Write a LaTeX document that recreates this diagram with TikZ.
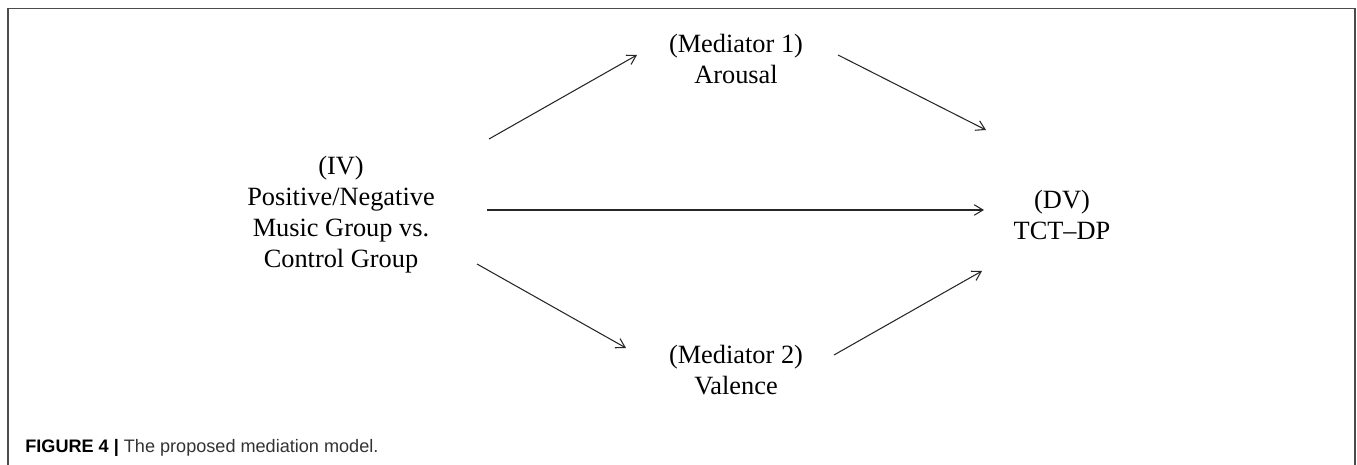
\documentclass[tikz,border=0pt]{standalone}
\usepackage{fontspec}
\setmainfont{Liberation Serif}
\newfontfamily\capfont{Liberation Sans}
\usetikzlibrary{arrows.meta, positioning}

\begin{document}
\begin{tikzpicture}
  [x=0.02cm, y=-0.02cm,
   varbox/.style={align=center, anchor=north, inner sep=0pt,
                  font=\fontsize{15}{17.6}\selectfont},
   effect/.style={-{Straight Barb[length=5pt,width=6pt]},
                  line width=0.6pt, black!85},
   borderline/.style={draw=black!70, line width=0.9pt},
   captext/.style={anchor=base west, inner sep=0pt,
                   font=\capfont\fontsize{10.3}{12}\selectfont}]

  \useasboundingbox (0,0) rectangle (1357,465);

  % Rahmen
  \draw [borderline] (8,465) -- (8,8.5) -- (1355,8.5) -- (1355,465);

  % Variablen
  \node (iv) at (341,156) [varbox]
      {(IV)\\ Positive/Negative\\ Music Group vs.\\ Control Group};
  \node (arousal) at (736,34) [varbox] {(Mediator 1)\\ Arousal};
  \node (valence) at (736,345) [varbox] {(Mediator 2)\\ Valence};
  \node (dv) at (1062,190) [varbox] {(DV)\\ TCT--DP};

  % Pfeilenden
  \coordinate (iv-up)       at (489,139);
  \coordinate (iv-mid)      at (487,210);
  \coordinate (iv-down)     at (477,264);
  \coordinate (arousal-in)  at (637,55);
  \coordinate (arousal-out) at (838,55);
  \coordinate (valence-in)  at (626,348);
  \coordinate (valence-out) at (834,355);
  \coordinate (dv-up)       at (986,130);
  \coordinate (dv-mid)      at (984,210);
  \coordinate (dv-down)     at (982,271);

  % Pfade
  \draw [effect] (iv-up) -- (arousal-in);
  \draw [effect] (arousal-out) -- (dv-up);
  \draw [effect] (iv-mid) -- (dv-mid);
  \draw [effect] (iv-down) -- (valence-in);
  \draw [effect] (valence-out) -- (dv-down);

  % Legende
  \node (cap) at (25,453) [captext]
      {\textbf{FIGURE 4 |} \textcolor{black!80}{The proposed mediation model.}};

\end{tikzpicture}
\end{document}
